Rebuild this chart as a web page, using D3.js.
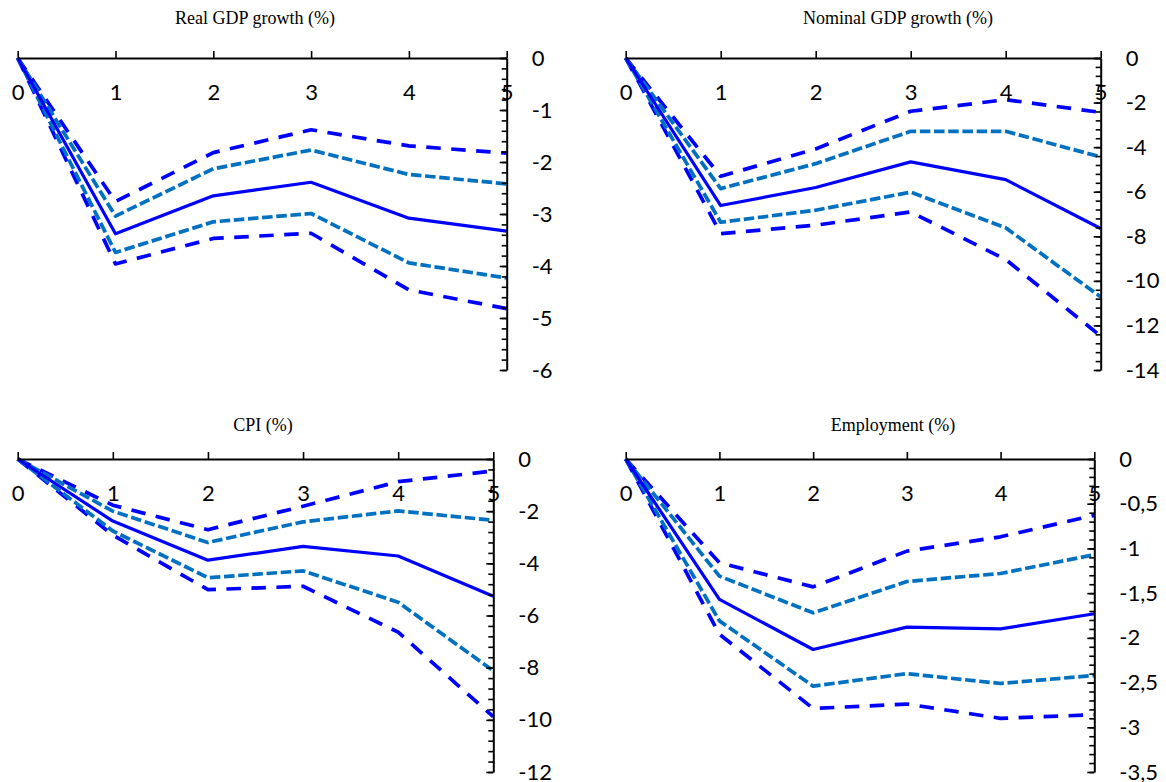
<!DOCTYPE html>
<html>
<head>
<meta charset="utf-8">
<script src="https://cdn.jsdelivr.net/npm/d3@7"></script>
<style>
  html, body { margin: 0; padding: 0; background: #fff; }
  svg { display: block; }
</style>
</head>
<body>
<svg id="chart" width="1166" height="782"></svg>
<script>
// ---------- data ----------
const horizons = [0, 1, 2, 3, 4, 5];

const realGdpMid     = [0, -3.38, -2.65, -2.39, -3.08, -3.33];
const realGdpInHigh  = [0, -3.04, -2.13, -1.77, -2.24, -2.42];
const realGdpInLow   = [0, -3.74, -3.15, -2.99, -3.94, -4.23];
const realGdpOutHigh = [0, -2.76, -1.82, -1.38, -1.69, -1.83];
const realGdpOutLow  = [0, -3.96, -3.47, -3.37, -4.46, -4.82];

const nomGdpMid     = [0, -6.62, -5.81, -4.66, -5.46, -7.65];
const nomGdpInHigh  = [0, -5.86, -4.74, -3.29, -3.29, -4.44];
const nomGdpInLow   = [0, -7.37, -6.83, -6.02, -7.62, -10.72];
const nomGdpOutHigh = [0, -5.31, -4.08, -2.39, -1.87, -2.44];
const nomGdpOutLow  = [0, -7.88, -7.50, -6.91, -9.04, -12.48];

const cpiMid     = [0, -2.38, -3.88, -3.35, -3.72, -5.26];
const cpiInHigh  = [0, -2.00, -3.20, -2.41, -1.99, -2.35];
const cpiInLow   = [0, -2.76, -4.55, -4.29, -5.49, -8.12];
const cpiOutHigh = [0, -1.77, -2.71, -1.81, -0.87, -0.46];
const cpiOutLow  = [0, -2.92, -5.01, -4.88, -6.64, -9.88];

const empMid     = [0, -1.57, -2.13, -1.88, -1.90, -1.73];
const empInHigh  = [0, -1.31, -1.72, -1.37, -1.28, -1.07];
const empInLow   = [0, -1.81, -2.54, -2.40, -2.51, -2.42];
const empOutHigh = [0, -1.16, -1.43, -1.03, -0.87, -0.63];
const empOutLow  = [0, -1.96, -2.79, -2.74, -2.90, -2.86];

const titles = ["Real GDP growth (%)", "Nominal GDP growth (%)", "CPI (%)", "Employment (%)"];
const yMins = [-6, -14, -12, -3.5];
const yMajor = [1, 2, 2, 0.5];

// ---------- layout ----------
const panels = [
  { x0: 17.7, x1: 506.7, y0: 58, y1: 370, tx: 255, ty: 24,
    series: [realGdpOutHigh, realGdpOutLow, realGdpInHigh, realGdpInLow, realGdpMid] },
  { x0: 625.7, x1: 1100.7, y0: 58, y1: 370, tx: 898, ty: 24,
    series: [nomGdpOutHigh, nomGdpOutLow, nomGdpInHigh, nomGdpInLow, nomGdpMid] },
  { x0: 17.7, x1: 493.3, y0: 459, y1: 772, tx: 263, ty: 431,
    series: [cpiOutHigh, cpiOutLow, cpiInHigh, cpiInLow, cpiMid] },
  { x0: 625.7, x1: 1094.3, y0: 459, y1: 772, tx: 893, ty: 431,
    series: [empOutHigh, empOutLow, empInHigh, empInLow, empMid] }
];

const styles = [
  { color: "#0000FF", width: 3.7, dash: "14.5,10.5" },
  { color: "#0000FF", width: 3.7, dash: "14.5,10.5" },
  { color: "#0070C0", width: 3.7, dash: "10.5,3.7" },
  { color: "#0070C0", width: 3.7, dash: "10.5,3.7" },
  { color: "#0000FF", width: 3.2, dash: null }
];

const svg = d3.select("#chart");
const fmt = d => (Math.abs(d) < 1e-9 ? "0" : String(+d.toFixed(2)).replace(".", ","));

panels.forEach((p, i) => {
  const g = svg.append("g");
  const x = d3.scaleLinear().domain([0, 5]).range([p.x0, p.x1]);
  const y = d3.scaleLinear().domain([0, yMins[i]]).range([p.y0, p.y1]);

  // title
  g.append("text")
    .attr("x", p.tx).attr("y", p.ty)
    .attr("text-anchor", "middle")
    .style("font-family", "'Liberation Serif', 'Times New Roman', serif")
    .style("font-size", "18px")
    .attr("fill", "#000")
    .text(titles[i]);

  // lines
  const line = d3.line().x((d, k) => x(horizons[k])).y(d => y(d));
  p.series.forEach((s, k) => {
    const st = styles[k];
    g.append("path")
      .datum(s)
      .attr("d", line)
      .attr("fill", "none")
      .attr("stroke", st.color)
      .attr("stroke-width", st.width)
      .attr("stroke-dasharray", st.dash)
      .attr("stroke-linejoin", "round");
  });

  // x axis (top, ticks upward, labels below)
  const xa = g.append("g").attr("transform", `translate(0,${p.y0})`)
    .call(d3.axisTop(x).tickValues(horizons).tickSizeInner(7).tickSizeOuter(0).tickFormat(d3.format("d")));
  xa.selectAll("text")
    .attr("y", 34).attr("dy", "0.35em");

  // y minor ticks
  const nMinor = Math.round(-yMins[i] / (yMajor[i] / 5));
  const minorVals = d3.range(0, nMinor + 1).map(k => -k * yMajor[i] / 5);
  const ym = g.append("g").attr("transform", `translate(${p.x1},0)`)
    .call(d3.axisRight(y).tickValues(minorVals).tickSizeInner(-5).tickSizeOuter(0).tickFormat(""));
  ym.select(".domain").remove();

  // y major axis
  const nMajor = Math.round(-yMins[i] / yMajor[i]);
  const majorVals = d3.range(0, nMajor + 1).map(k => -k * yMajor[i]);
  g.append("g").attr("transform", `translate(${p.x1},0)`)
    .call(d3.axisRight(y).tickValues(majorVals).tickSizeInner(-7).tickSizeOuter(0).tickPadding(25).tickFormat(fmt));

  g.selectAll(".domain").attr("stroke", "#000").attr("stroke-width", 2);
  g.selectAll(".tick line").attr("stroke", "#000").attr("stroke-width", 1.6);
  g.selectAll(".tick text")
    .style("font-family", "Lato, 'Open Sans', sans-serif")
    .style("font-size", "22px")
    .attr("fill", "#000");
});
</script>
</body>
</html>
